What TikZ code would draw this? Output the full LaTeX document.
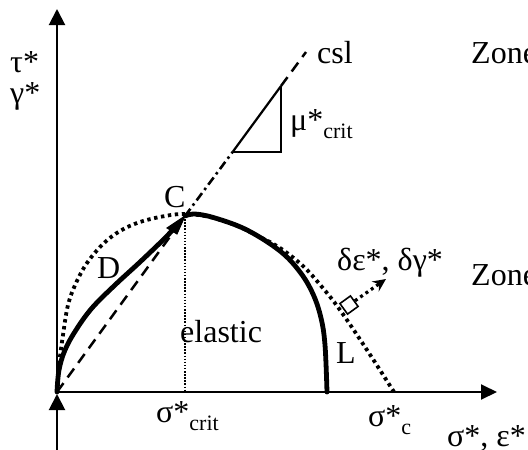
\documentclass[tikz,border=0pt]{standalone}
\usepackage{fontspec}
\setmainfont{Liberation Serif}
\usetikzlibrary{arrows.meta}
\newcommand{\mysub}[1]{\raisebox{-0.28em}{\fontsize{22}{22}\selectfont #1}}
\begin{document}
\begin{tikzpicture}[x=1pt,y=-1pt,
  axis/.style={line width=2pt},
  lbl/.style={inner sep=0pt,anchor=base west,font=\fontsize{32}{32}\selectfont},
  yieldline/.style={line width=3.8pt,dash pattern=on 3.4pt off 3.6pt},
  pathline/.style={line width=4.8pt,line cap=round,line join=round},
  csldash/.style={line width=2.5pt,dash pattern=on 11pt off 7pt},
  csldashdot/.style={line width=2.6pt,dash pattern=on 9pt off 4pt on 2.5pt off 4pt},
  thindot/.style={line width=2pt,dash pattern=on 1.5pt off 1.6pt}]
\useasboundingbox (0,0) rectangle (528,450);
% coordinates
\coordinate (O) at (57,392);
\coordinate (C) at (185,216);
\coordinate (Ytop) at (57,9);
\coordinate (Xend) at (497,392);
\coordinate (Bot) at (57,452);
\coordinate (BotTip) at (57,394);
\coordinate (T1) at (232.6,152);
\coordinate (T2) at (281,152);
\coordinate (T3) at (281,86);
\coordinate (Cs) at (306,52);
\coordinate (Cx) at (185,392);
\coordinate (ntip) at (386,279);
% axes
\draw[axis,-{Triangle[length=16pt,width=16pt]}] (O) -- (Ytop);
\draw[axis,-{Triangle[length=16pt,width=15pt]}] (O) -- (Xend);
\draw[axis,-{Triangle[length=16pt,width=16pt]}] (Bot) -- (BotTip);
% csl line
\draw[csldash] (O) -- (C);
\draw[csldashdot] (C) -- (T1);
\draw[line width=2.2pt] (T1) -- (T3);
\draw[csldash] (T3) -- (Cs);
\draw[line width=1.8pt] (T1) -- (T2) -- (T3);
% vertical dotted from C
\draw[thindot] (C) -- (Cx);
% yield surface (dotted)
\draw[yieldline] plot[smooth,tension=0.6] coordinates {(57,392) (59,365) (63,335) (68,305) (76,283) (87,263) (103,244) (120,231) (140,222) (165,216) (185,214) (210,217) (235,225) (258,236) (280,248) (303,266) (322,287) (340,310) (367,350) (394,392)};
% D path
\draw[pathline] plot[smooth,tension=0.6] coordinates {(57,392) (59,370) (65,350) (76,330) (92,308) (115,285) (140,262) (165,238) (178,224)};
\draw[line width=1pt,fill=black] (185,216) -- (167,228) -- (177,234) -- cycle;
% L path
\draw[pathline] plot[smooth,tension=0.6] coordinates {(185,216) (195,214) (215,218) (247,230) (280,251) (300,272) (313,294) (321,318) (325,345) (327,392)};
% normal arrow
\node[draw,line width=1.6pt,fill=white,rotate=36,minimum size=13pt,inner sep=0pt] (sq) at (349,305) {};
\draw[line width=3.2pt,dash pattern=on 3pt off 3.5pt,-{Stealth[length=13pt,width=12pt]}] (sq) -- (ntip);
% labels
\node[lbl] (tau) at (10,72) {τ*};
\node[lbl] (gam) at (10,103) {γ*};
\node[lbl] (csl) at (317,63) {csl};
\node[lbl] (zone1) at (471,63) {Zone};
\node[lbl] (mu) at (290,130) {μ*\mysub{crit}};
\node[lbl] (Clbl) at (164,207) {C};
\node[lbl] (Dlbl) at (97,278) {D};
\node[lbl] (el) at (180,342) {elastic};
\node[lbl] (Llbl) at (336,363) {L};
\node[lbl] (de) at (337,270) {δε*, δγ*};
\node[lbl] (zone2) at (471,285) {Zone};
\node[lbl] (scrit) at (156,422) {σ*\mysub{crit}};
\node[lbl] (sc) at (368,426) {σ*\mysub{c}};
\node[lbl] (se) at (447,446) {σ*, ε*};
\end{tikzpicture}
\end{document}
